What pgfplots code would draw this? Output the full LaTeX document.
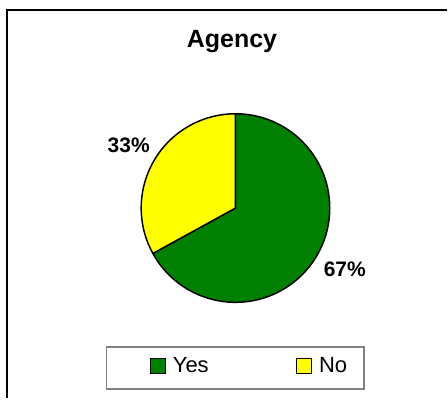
\documentclass[border=0pt]{standalone}
\usepackage{pgfplots}
\usepackage{pgfplotstable}
\pgfplotsset{compat=1.18}
\usepackage{fontspec}
\setmainfont{Liberation Sans}
\definecolor{pieGreen}{HTML}{008000}
\definecolor{pieYellow}{HTML}{FFFF00}
\definecolor{legGray}{HTML}{808080}

\pgfplotstableread{
label value
Yes 67
No 33
}\piedata

\begin{document}
\begin{tikzpicture}
\pgfplotstablegetelem{0}{value}\of\piedata \let\vYes\pgfplotsretval
\pgfplotstablegetelem{1}{value}\of\piedata \let\vNo\pgfplotsretval
\pgfmathsetmacro{\aStart}{90}
\pgfmathsetmacro{\aMid}{90-3.6*\vYes}
\pgfmathsetmacro{\aEnd}{\aMid-3.6*\vNo}
\begin{axis}[
  hide axis, scale only axis,
  x=0.75pt, y=0.75pt,
  xmin=0, xmax=448, ymin=0, ymax=399,
  clip=false,
]
% bounding area
\path (axis cs:0,0) rectangle (axis cs:448,399);
% outer frame (top and left visible)
\draw[black, line width=1.5pt] (axis cs:7,0) -- (axis cs:7,389) -- (axis cs:448,389);
% title
\node[anchor=base, font=\fontsize{18.75}{22}\selectfont\bfseries] at (axis cs:232.5,351) {Agency};
% pie slices
\filldraw[fill=pieGreen, draw=black, line width=1.1pt, line join=round]
  (axis cs:236,190.5) -- ++(\aStart:70.875pt) arc[start angle=\aStart, end angle=\aMid, radius=70.875pt] -- cycle;
\filldraw[fill=pieYellow, draw=black, line width=1.1pt, line join=round]
  (axis cs:236,190.5) -- ++(\aMid:70.875pt) arc[start angle=\aMid, end angle=\aEnd, radius=70.875pt] -- cycle;
% data labels
\node[anchor=base, font=\fontsize{15.75}{18}\selectfont\bfseries] at (axis cs:129,246) {\vNo\%};
\node[anchor=base, font=\fontsize{15.75}{18}\selectfont\bfseries] at (axis cs:345.5,122) {\vYes\%};
% legend
\draw[legGray, line width=1.1pt] (axis cs:107,9) rectangle (axis cs:365,51);
\filldraw[fill=pieGreen, draw=black, line width=1pt] (axis cs:151,25) rectangle (axis cs:166,40);
\filldraw[fill=pieYellow, draw=black, line width=1pt] (axis cs:297,25) rectangle (axis cs:312,40);
\node[anchor=base west, inner sep=0pt, font=\fontsize{16.5}{19}\selectfont] at (axis cs:173,26) {Yes};
\node[anchor=base west, inner sep=0pt, font=\fontsize{16.5}{19}\selectfont] at (axis cs:319.5,26) {No};
\end{axis}
\end{tikzpicture}
\end{document}
